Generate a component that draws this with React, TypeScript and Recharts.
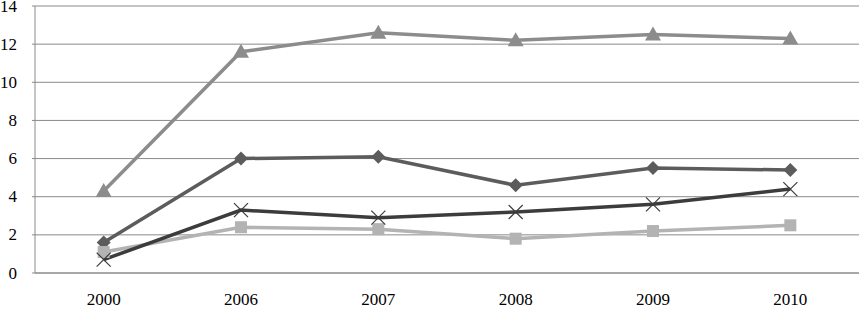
import { LineChart, Line, XAxis, YAxis, CartesianGrid } from "recharts";

const years = ["2000", "2006", "2007", "2008", "2009", "2010"];
const triangleSeries = [4.3, 11.6, 12.6, 12.2, 12.5, 12.3];
const diamondSeries = [1.6, 6.0, 6.1, 4.6, 5.5, 5.4];
const squareSeries = [1.1, 2.4, 2.3, 1.8, 2.2, 2.5];
const crossSeries = [0.7, 3.3, 2.9, 3.2, 3.6, 4.4];
const yTicks = [0, 2, 4, 6, 8, 10, 12, 14];

const data = years.map((year, i) => ({
  year,
  triangle: triangleSeries[i],
  diamond: diamondSeries[i],
  square: squareSeries[i],
  cross: crossSeries[i],
}));

const FONT = "Liberation Serif";

// marcadores al estilo Excel
const Triangle = ({ cx, cy, index }: any) => (
  <polygon
    key={`t-${index}`}
    points={`${cx},${cy - 8} ${cx + 8},${cy + 6} ${cx - 8},${cy + 6}`}
    fill="#8c8c8c"
  />
);

const Diamond = ({ cx, cy, index }: any) => (
  <polygon
    key={`d-${index}`}
    points={`${cx},${cy - 7} ${cx + 7},${cy} ${cx},${cy + 7} ${cx - 7},${cy}`}
    fill="#5c5c5c"
  />
);

const Square = ({ cx, cy, index }: any) => (
  <rect key={`s-${index}`} x={cx - 6} y={cy - 6} width={12} height={12} fill="#b3b3b3" />
);

const Cross = ({ cx, cy, index }: any) => (
  <g key={`c-${index}`} stroke="#3c3c3c" strokeWidth={1.2}>
    <line x1={cx - 7} y1={cy - 7} x2={cx + 7} y2={cy + 7} />
    <line x1={cx - 7} y1={cy + 7} x2={cx + 7} y2={cy - 7} />
  </g>
);

// ticks propios para forzar la fuente con serifa
const XTick = ({ x, y, payload }: any) => (
  <text x={x} y={y + 11} textAnchor="middle" fontFamily={FONT} fontSize={17} fill="#000">
    {payload.value}
  </text>
);

const YTick = ({ x, y, payload }: any) => (
  <text
    x={x - 12}
    y={y}
    textAnchor="end"
    dominantBaseline="central"
    fontFamily={FONT}
    fontSize={17}
    fill="#000"
  >
    {payload.value}
  </text>
);

export default function App() {
  return (
    <div style={{ position: "absolute", left: 0, top: 0, background: "#fff" }}>
      <LineChart
        width={859}
        height={310}
        data={data}
        margin={{ top: 6, right: 0, left: 0, bottom: 0 }}
      >
        <CartesianGrid vertical={false} stroke="#8a8a8a" strokeWidth={1} />
        <XAxis
          dataKey="year"
          scale="band"
          height={37}
          axisLine={{ stroke: "#8a8a8a" }}
          tickLine={false}
          tickSize={0}
          tickMargin={21}
          interval={0}
          tick={XTick}
        />
        <YAxis
          width={35}
          domain={[0, 14]}
          ticks={yTicks}
          interval={0}
          axisLine={{ stroke: "#8a8a8a" }}
          tickLine={{ stroke: "#8a8a8a" }}
          tickSize={3}
          tickMargin={3}
          tick={YTick}
        />
        <Line
          dataKey="triangle"
          stroke="#8c8c8c"
          strokeWidth={3.5}
          dot={Triangle}
          activeDot={false}
          isAnimationActive={false}
        />
        <Line
          dataKey="diamond"
          stroke="#5c5c5c"
          strokeWidth={3.5}
          dot={Diamond}
          activeDot={false}
          isAnimationActive={false}
        />
        <Line
          dataKey="square"
          stroke="#b3b3b3"
          strokeWidth={3.5}
          dot={Square}
          activeDot={false}
          isAnimationActive={false}
        />
        <Line
          dataKey="cross"
          stroke="#3c3c3c"
          strokeWidth={3.5}
          dot={Cross}
          activeDot={false}
          isAnimationActive={false}
        />
      </LineChart>
    </div>
  );
}
